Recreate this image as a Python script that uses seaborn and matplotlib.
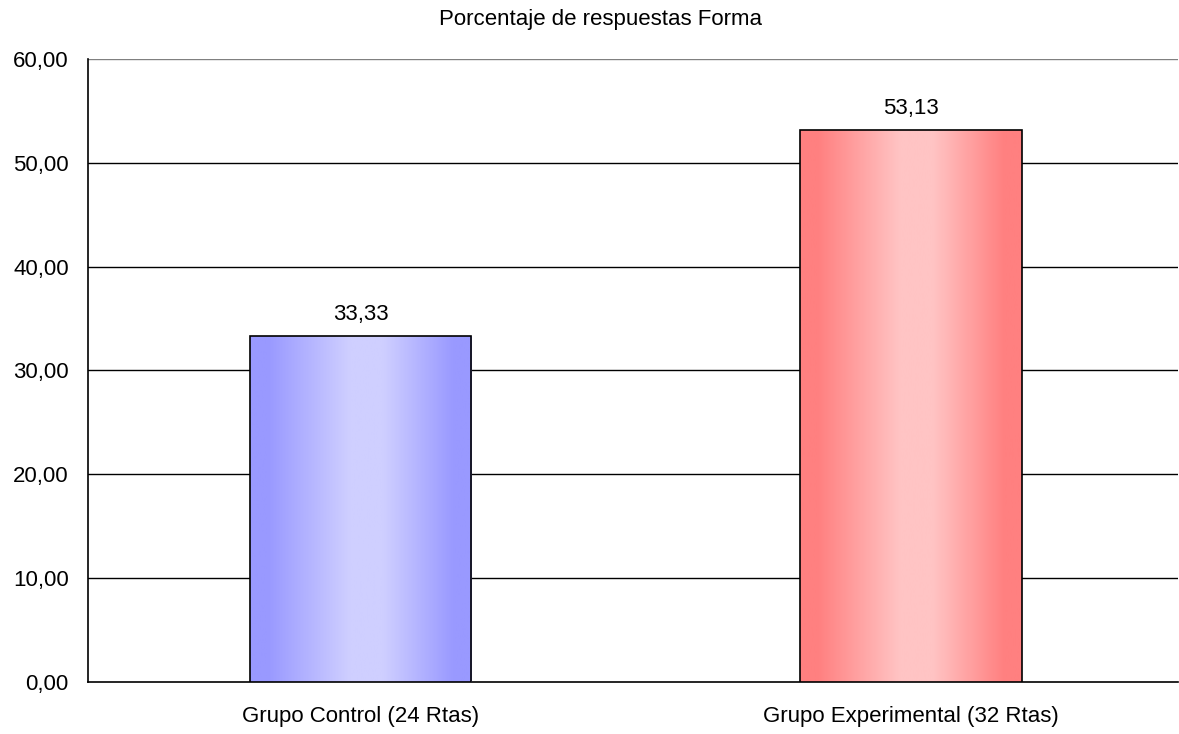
import numpy as np
import pandas as pd
import matplotlib
matplotlib.use("Agg")
import matplotlib.pyplot as plt
from matplotlib.colors import LinearSegmentedColormap
import seaborn as sns

# Data
categories = ["Grupo Control (24 Rtas)", "Grupo Experimental (32 Rtas)"]
values = [33.33, 53.13]
title = "Porcentaje de respuestas Forma"
yticks = [0, 10, 20, 30, 40, 50, 60]

# Gradient colours per bar: edge shade and centre highlight
edge_colors = ["#9999FF", "#FF8080"]
center_colors = ["#CFCFFF", "#FFC4C4"]

sns.set_theme(style="white")
plt.rcParams["font.family"] = ["Liberation Sans", "DejaVu Sans"]

FS = 16
XLIM = (-0.495, 1.485)

df = pd.DataFrame({"grupo": categories, "valor": values})

fig = plt.figure(figsize=(11.79, 7.34), dpi=100)
ax = fig.add_axes([88 / 1179, 1 - 682 / 734, (1178 - 88) / 1179, (682 - 59) / 734])

sns.barplot(data=df, x="grupo", y="valor", ax=ax, width=0.402,
            color="white", edgecolor="black", linewidth=1.2, zorder=3)

# Horizontal gradient fill, clipped to each bar
for patch, c_edge, c_mid in zip(ax.patches, edge_colors, center_colors):
    x0, y0 = patch.get_x(), patch.get_y()
    w, h = patch.get_width(), patch.get_height()
    cmap = LinearSegmentedColormap.from_list(
        "g", [(0.0, c_edge), (0.08, c_edge), (0.45, c_mid), (0.6, c_mid),
              (0.92, c_edge), (1.0, c_edge)])
    grad = np.linspace(0, 1, 256).reshape(1, -1)
    im = ax.imshow(grad, cmap=cmap, aspect="auto", extent=(x0, x0 + w, y0, y0 + h),
                   zorder=3.5, interpolation="bicubic")
    im.set_clip_path(patch)
    patch.set_facecolor("none")
    patch.set_zorder(4)

ax.set_xlim(*XLIM)
ax.set_ylim(0, 60)

# Value labels
for i, v in enumerate(values):
    ax.text(i, v + 1.55, f"{v:.2f}".replace(".", ","), ha="center", va="baseline",
            fontsize=FS, color="black", zorder=5)

# Gridlines
for t in yticks[1:]:
    ax.axhline(t, color="#808080" if t == 60 else "black", linewidth=1.0, zorder=1)

ax.set_yticks(yticks)
ax.set_yticklabels([f"{t:.2f}".replace(".", ",") for t in yticks], fontsize=FS, color="black")
ax.set_xticks([0, 1])
ax.set_xticklabels(categories, fontsize=FS, color="black")
ax.set_xticks([-0.495, 0.5, 1.485], minor=True)
ax.tick_params(axis="x", which="major", length=0, pad=17)
ax.tick_params(axis="x", which="minor", length=5, width=1, color="black", direction="out")
ax.tick_params(axis="y", which="major", length=5.8, width=1, color="black", direction="out", pad=8)
ax.set_xlabel("")
ax.set_ylabel("")

for s in ["top", "right"]:
    ax.spines[s].set_visible(False)
for s in ["left", "bottom"]:
    ax.spines[s].set_color("black")
    ax.spines[s].set_linewidth(1.2)

fig.text(601 / 1179, 1 - 19 / 734, title, ha="center", va="center", fontsize=FS, color="black")

fig.savefig("out.png", dpi=100, facecolor="white")
